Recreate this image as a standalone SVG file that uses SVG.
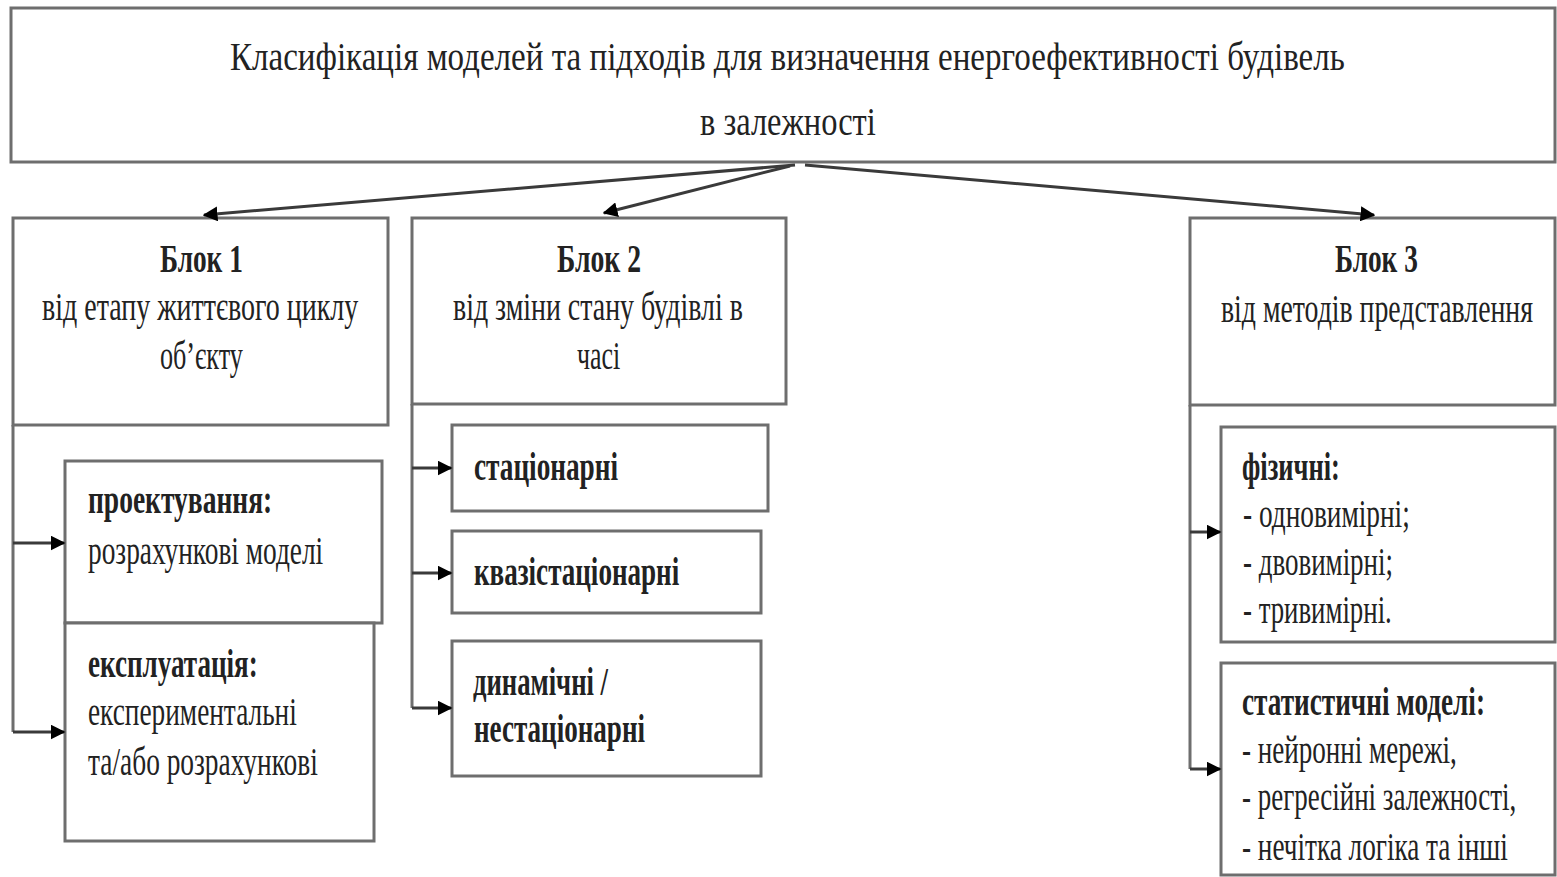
<svg xmlns="http://www.w3.org/2000/svg" width="1557" height="877" viewBox="0 0 1557 877">
<style>
.box{fill:#fff;stroke:#6e6e6e;stroke-width:3}
.t{font-family:"Liberation Serif","Times New Roman",serif;font-size:40px;fill:#222}
.b{font-weight:bold}
.con{fill:none;stroke:#3a3a3a;stroke-width:3}
.bus{fill:none;stroke:#6e6e6e;stroke-width:3}
</style>
<defs>
<marker id="ah" viewBox="0 0 10 10" refX="9" refY="5" markerWidth="5" markerHeight="5" markerUnits="strokeWidth" orient="auto">
<path d="M0,0 L10,5 L0,10 Z" fill="#000"/>
</marker>
</defs>
<rect width="1557" height="877" fill="#fff"/>

<g id="title">
<rect class="box" x="11" y="8" width="1544" height="154"/>
<text class="t" transform="translate(230 70) scale(0.6 1)" textLength="1858" lengthAdjust="spacingAndGlyphs">Класифікація моделей та підходів для визначення енергоефективності будівель</text>
<text class="t" transform="translate(700 135) scale(0.6 1)" textLength="293" lengthAdjust="spacingAndGlyphs">в залежності</text>
</g>

<g id="block1">
<rect class="box" x="13" y="218" width="375" height="207"/>
<text class="t b" transform="translate(160 272) scale(0.6 1)" textLength="138" lengthAdjust="spacingAndGlyphs">Блок 1</text>
<text class="t" transform="translate(42 320) scale(0.6 1)" textLength="527" lengthAdjust="spacingAndGlyphs">від етапу життєвого циклу</text>
<text class="t" transform="translate(160 369) scale(0.6 1)" textLength="138" lengthAdjust="spacingAndGlyphs">об’єкту</text>
</g>

<g id="block2">
<rect class="box" x="412" y="218" width="374" height="186"/>
<text class="t b" transform="translate(557 272) scale(0.6 1)" textLength="140" lengthAdjust="spacingAndGlyphs">Блок 2</text>
<text class="t" transform="translate(453 320) scale(0.6 1)" textLength="483" lengthAdjust="spacingAndGlyphs">від зміни стану будівлі в</text>
<text class="t" transform="translate(577 369) scale(0.6 1)" textLength="72" lengthAdjust="spacingAndGlyphs">часі</text>
</g>

<g id="block3">
<rect class="box" x="1190" y="218" width="365" height="187"/>
<text class="t b" transform="translate(1335 272) scale(0.6 1)" textLength="138" lengthAdjust="spacingAndGlyphs">Блок 3</text>
<text class="t" transform="translate(1221 322) scale(0.6 1)" textLength="520" lengthAdjust="spacingAndGlyphs">від методів представлення</text>
</g>

<g id="design">
<rect class="box" x="65" y="461" width="317" height="162"/>
<text class="t b" transform="translate(88 513) scale(0.6 1)" textLength="307" lengthAdjust="spacingAndGlyphs">проектування:</text>
<text class="t" transform="translate(88 564) scale(0.6 1)" textLength="392" lengthAdjust="spacingAndGlyphs">розрахункові моделі</text>
</g>

<g id="operation">
<rect class="box" x="65" y="623" width="309" height="218"/>
<text class="t b" transform="translate(88 677) scale(0.6 1)" textLength="283" lengthAdjust="spacingAndGlyphs">експлуатація:</text>
<text class="t" transform="translate(88 725) scale(0.6 1)" textLength="348" lengthAdjust="spacingAndGlyphs">експериментальні</text>
<text class="t" transform="translate(88 775) scale(0.6 1)" textLength="383" lengthAdjust="spacingAndGlyphs">та/або розрахункові</text>
</g>

<g id="stationary">
<rect class="box" x="452" y="425" width="316" height="86"/>
<text class="t b" transform="translate(474 480) scale(0.6 1)" textLength="240" lengthAdjust="spacingAndGlyphs">стаціонарні</text>
</g>

<g id="quasi">
<rect class="box" x="452" y="531" width="309" height="82"/>
<text class="t b" transform="translate(474 585) scale(0.6 1)" textLength="342" lengthAdjust="spacingAndGlyphs">квазістаціонарні</text>
</g>

<g id="dynamic">
<rect class="box" x="452" y="641" width="309" height="135"/>
<text class="t b" transform="translate(473 695) scale(0.6 1)" textLength="225" lengthAdjust="spacingAndGlyphs">динамічні /</text>
<text class="t b" transform="translate(474 742) scale(0.6 1)" textLength="285" lengthAdjust="spacingAndGlyphs">нестаціонарні</text>
</g>

<g id="physical">
<rect class="box" x="1221" y="427" width="334" height="215"/>
<text class="t b" transform="translate(1242 480) scale(0.6 1)" textLength="163" lengthAdjust="spacingAndGlyphs">фізичні:</text>
<text class="t" transform="translate(1243 527) scale(0.6 1)" textLength="278" lengthAdjust="spacingAndGlyphs">- одновимірні;</text>
<text class="t" transform="translate(1243 575) scale(0.6 1)" textLength="250" lengthAdjust="spacingAndGlyphs">- двовимірні;</text>
<text class="t" transform="translate(1243 623) scale(0.6 1)" textLength="248" lengthAdjust="spacingAndGlyphs">- тривимірні.</text>
</g>

<g id="statistical">
<rect class="box" x="1221" y="663" width="334" height="212"/>
<text class="t b" transform="translate(1242 715) scale(0.6 1)" textLength="405" lengthAdjust="spacingAndGlyphs">статистичні моделі:</text>
<text class="t" transform="translate(1242 763) scale(0.6 1)" textLength="358" lengthAdjust="spacingAndGlyphs">- нейронні мережі,</text>
<text class="t" transform="translate(1242 810) scale(0.6 1)" textLength="457" lengthAdjust="spacingAndGlyphs">- регресійні залежності,</text>
<text class="t" transform="translate(1242 860) scale(0.6 1)" textLength="443" lengthAdjust="spacingAndGlyphs">- нечітка логіка та інші</text>
</g>

<g id="connectors">
<line class="con" x1="795" y1="165" x2="204" y2="215" marker-end="url(#ah)"/>
<line class="con" x1="790" y1="166" x2="604" y2="213" marker-end="url(#ah)"/>
<line class="con" x1="805" y1="165" x2="1374" y2="215" marker-end="url(#ah)"/>
<polyline class="bus" points="13,425 13,732"/>
<line class="con" x1="13" y1="543" x2="64" y2="543" marker-end="url(#ah)"/>
<line class="con" x1="13" y1="732" x2="64" y2="732" marker-end="url(#ah)"/>
<polyline class="bus" points="412,404 412,708"/>
<line class="con" x1="412" y1="468" x2="451" y2="468" marker-end="url(#ah)"/>
<line class="con" x1="412" y1="573" x2="451" y2="573" marker-end="url(#ah)"/>
<line class="con" x1="412" y1="708" x2="451" y2="708" marker-end="url(#ah)"/>
<polyline class="bus" points="1190,405 1190,769"/>
<line class="con" x1="1190" y1="532" x2="1220" y2="532" marker-end="url(#ah)"/>
<line class="con" x1="1190" y1="769" x2="1220" y2="769" marker-end="url(#ah)"/>
</g>
</svg>
